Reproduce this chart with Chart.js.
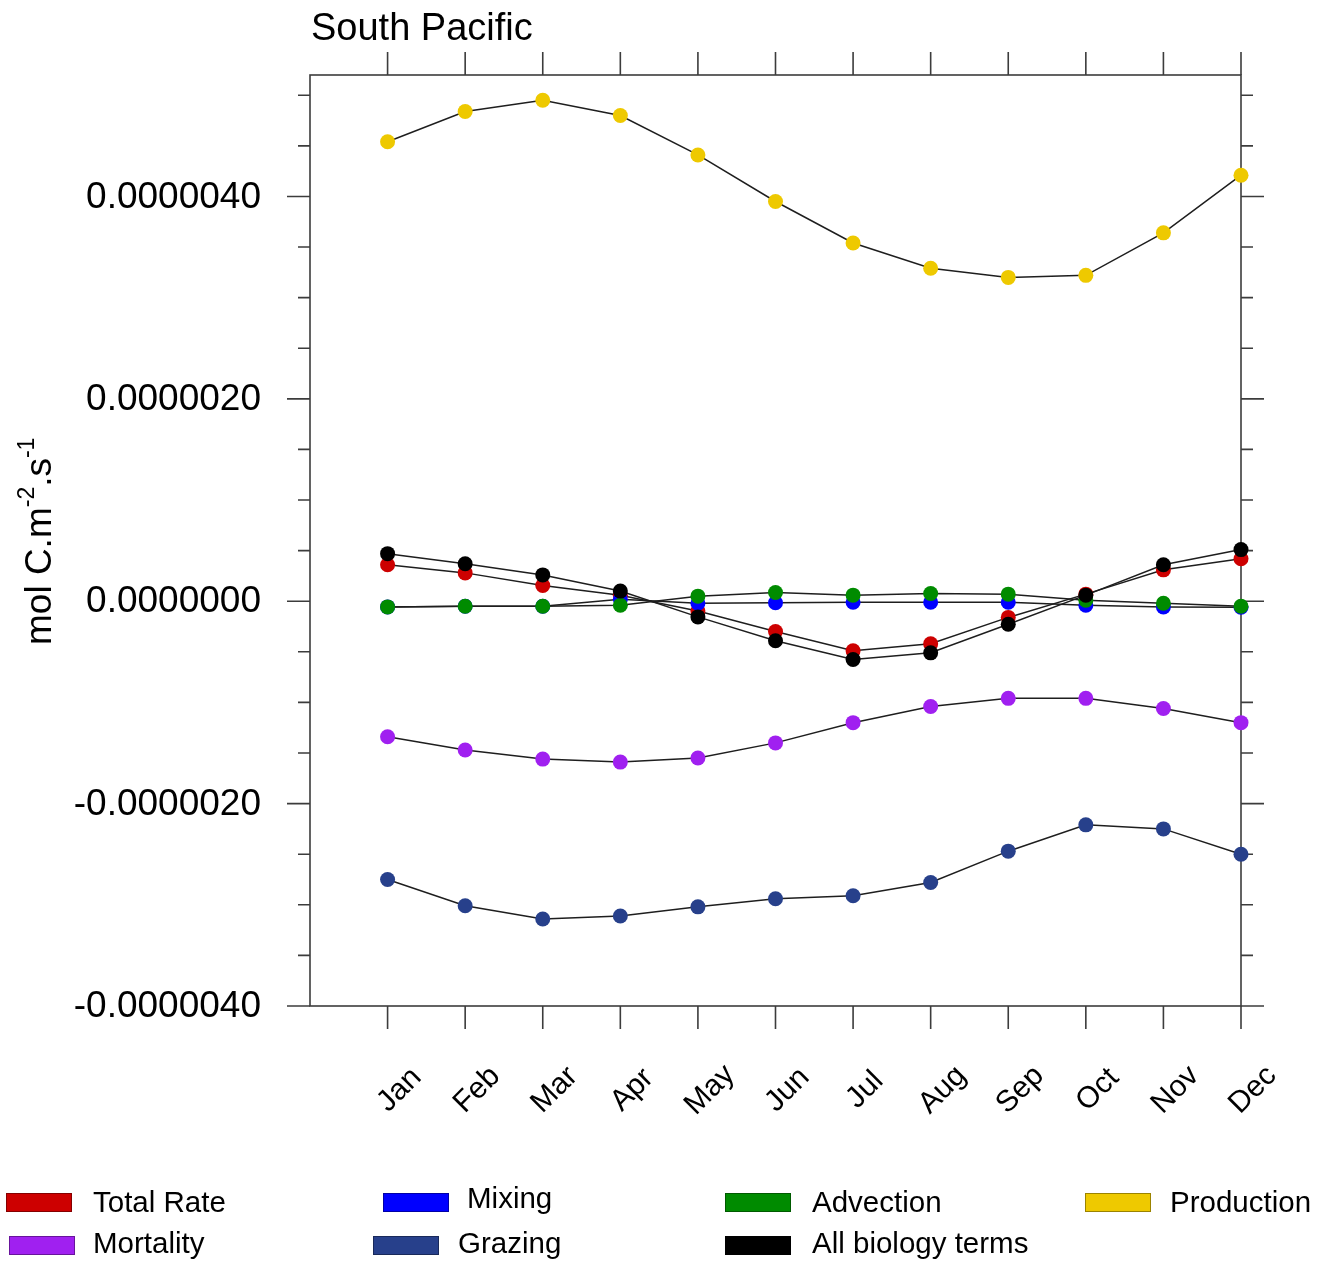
<!DOCTYPE html>
<html>
<head>
<meta charset="utf-8">
<title>South Pacific</title>
<script src="https://cdn.jsdelivr.net/npm/chart.js@4/dist/chart.umd.min.js"></script>
<style>
  html, body { margin: 0; padding: 0; background: #ffffff; }
  #wrap { width: 1330px; height: 1266px; position: relative; }
</style>
</head>
<body>
<div id="wrap"><canvas id="chart"></canvas></div>
<script>
// Monthly carbon budget terms, South Pacific (mol C m-2 s-1)
const months = ['Jan', 'Feb', 'Mar', 'Apr', 'May', 'Jun', 'Jul', 'Aug', 'Sep', 'Oct', 'Nov', 'Dec'];

const totalRate   = [0.36e-6, 0.28e-6, 0.155e-6, 0.06e-6, -0.096e-6, -0.30e-6, -0.49e-6, -0.42e-6, -0.16e-6, 0.07e-6, 0.31e-6, 0.42e-6];
const mixing      = [-0.056e-6, -0.05e-6, -0.05e-6, 0.02e-6, -0.02e-6, -0.015e-6, -0.01e-6, -0.01e-6, -0.01e-6, -0.04e-6, -0.056e-6, -0.06e-6];
const advection   = [-0.056e-6, -0.05e-6, -0.05e-6, -0.04e-6, 0.05e-6, 0.086e-6, 0.06e-6, 0.076e-6, 0.07e-6, 0.01e-6, -0.02e-6, -0.05e-6];
const production  = [4.54e-6, 4.84e-6, 4.95e-6, 4.80e-6, 4.41e-6, 3.95e-6, 3.54e-6, 3.29e-6, 3.20e-6, 3.22e-6, 3.64e-6, 4.21e-6];
const mortality   = [-1.34e-6, -1.47e-6, -1.56e-6, -1.59e-6, -1.55e-6, -1.40e-6, -1.20e-6, -1.04e-6, -0.96e-6, -0.96e-6, -1.06e-6, -1.20e-6];
const grazing     = [-2.75e-6, -3.01e-6, -3.14e-6, -3.11e-6, -3.02e-6, -2.94e-6, -2.91e-6, -2.78e-6, -2.47e-6, -2.21e-6, -2.25e-6, -2.50e-6];
const allBiology  = [0.47e-6, 0.37e-6, 0.26e-6, 0.10e-6, -0.155e-6, -0.39e-6, -0.576e-6, -0.51e-6, -0.227e-6, 0.06e-6, 0.36e-6, 0.51e-6];

const seriesNames  = ['Total Rate', 'Mixing', 'Advection', 'Production', 'Mortality', 'Grazing', 'All biology terms'];
const seriesColors = ['#CD0000', '#0000FF', '#008B00', '#EEC900', '#A020F0', '#27408B', '#000000'];
const seriesValues = [totalRate, mixing, advection, production, mortality, grazing, allBiology];

const yMajorTicks  = [-4e-6, -2e-6, 0, 2e-6, 4e-6];
const yTickLabels  = ['-0.0000040', '-0.0000020', '0.0000000', '0.0000020', '0.0000040'];
const yMinorStep   = 0.5e-6;

const FONT = '"Liberation Sans", Arial, Helvetica, sans-serif';
const AXIS_COLOR = '#3c3c3c';

// later series are painted on top of earlier ones
const datasets = seriesValues.map((vals, i) => ({
  label: seriesNames[i],
  data: vals.map((v, k) => ({ x: k + 1, y: v })),
  borderColor: '#1e1e1e',
  borderWidth: 1.5,
  backgroundColor: seriesColors[i],
  pointBackgroundColor: seriesColors[i],
  pointBorderWidth: 0,
  pointRadius: 7.5,
  pointHoverRadius: 7.5,
  tension: 0,
  clip: false,
  order: seriesValues.length - i
}));

// frame, tick marks and all axis text
const framePlugin = {
  id: 'frame',
  beforeDatasetsDraw(chart) {
    const { ctx, chartArea: a, scales: { x, y } } = chart;
    ctx.save();
    ctx.strokeStyle = AXIS_COLOR;
    ctx.lineWidth = 1.6;
    ctx.strokeRect(a.left, a.top, a.right - a.left, a.bottom - a.top);

    ctx.beginPath();
    // month ticks, outward on top and bottom
    for (let m = 1; m <= 12; m++) {
      const px = x.getPixelForValue(m);
      ctx.moveTo(px, a.top); ctx.lineTo(px, a.top - 23);
      ctx.moveTo(px, a.bottom); ctx.lineTo(px, a.bottom + 23);
    }
    // value ticks, outward on left and right
    for (let v = -4e-6; v <= 5.0e-6 + 1e-12; v += yMinorStep) {
      const py = y.getPixelForValue(v);
      const major = yMajorTicks.some(t => Math.abs(t - v) < 1e-12);
      const len = major ? 23 : 12;
      ctx.moveTo(a.left, py); ctx.lineTo(a.left - len, py);
      ctx.moveTo(a.right, py); ctx.lineTo(a.right + len, py);
    }
    ctx.stroke();
    ctx.restore();
  },
  afterDraw(chart) {
    const { ctx, chartArea: a, scales: { x, y } } = chart;
    ctx.save();
    ctx.fillStyle = '#000000';

    // title
    ctx.font = '38px ' + FONT;
    ctx.textAlign = 'left';
    ctx.textBaseline = 'alphabetic';
    ctx.fillText('South Pacific', 311, 40);

    // y tick labels
    ctx.font = '37px ' + FONT;
    ctx.textAlign = 'right';
    ctx.textBaseline = 'middle';
    yMajorTicks.forEach((v, i) => {
      ctx.fillText(yTickLabels[i], 261, y.getPixelForValue(v) + 1);
    });

    // month labels, rotated 45 degrees
    ctx.font = '30px ' + FONT;
    ctx.textAlign = 'center';
    ctx.textBaseline = 'middle';
    months.forEach((m, i) => {
      const px = x.getPixelForValue(i + 1);
      ctx.save();
      ctx.translate(px + 12, a.bottom + 84);
      ctx.rotate(-Math.PI / 4);
      ctx.fillText(m, 0, 0);
      ctx.restore();
    });

    // y axis title with superscripts
    ctx.save();
    ctx.translate(51, 645);
    ctx.rotate(-Math.PI / 2);
    ctx.textAlign = 'left';
    ctx.textBaseline = 'alphabetic';
    const parts = [
      { t: 'mol C.m', sup: false },
      { t: '-2', sup: true },
      { t: '.s', sup: false },
      { t: '-1', sup: true }
    ];
    let cx = 0;
    parts.forEach(p => {
      ctx.font = (p.sup ? '23px ' : '37px ') + FONT;
      ctx.fillText(p.t, cx, p.sup ? -17 : 0);
      cx += ctx.measureText(p.t).width;
    });
    ctx.restore();

    // legend: colour swatches with labels
    const legendSlots = [
      { sx: 6,   sy: 1193, tx: 93,  ty: 1203 },
      { sx: 383, sy: 1193, tx: 467, ty: 1199 },
      { sx: 725, sy: 1193, tx: 812, ty: 1203 },
      { sx: 1085, sy: 1193, tx: 1170, ty: 1203 },
      { sx: 9,   sy: 1236, tx: 93,  ty: 1244 },
      { sx: 373, sy: 1236, tx: 458, ty: 1244 },
      { sx: 725, sy: 1236, tx: 812, ty: 1244 }
    ];
    ctx.font = '29.5px ' + FONT;
    ctx.textAlign = 'left';
    ctx.textBaseline = 'middle';
    legendSlots.forEach((s, i) => {
      ctx.fillStyle = seriesColors[i];
      ctx.fillRect(s.sx, s.sy, 66, 19);
      ctx.strokeStyle = 'rgba(0,0,0,0.35)';
      ctx.lineWidth = 1;
      ctx.strokeRect(s.sx + 0.5, s.sy + 0.5, 65, 18);
      ctx.fillStyle = '#000000';
      ctx.fillText(seriesNames[i], s.tx, s.ty + 1);
    });
    ctx.restore();
  }
};

new Chart(document.getElementById('chart'), {
  type: 'line',
  data: { datasets },
  options: {
    responsive: true,
    maintainAspectRatio: false,
    animation: false,
    events: [],
    layout: { padding: { left: 310, right: 89, top: 75, bottom: 260 } },
    plugins: { legend: { display: false }, title: { display: false }, tooltip: { enabled: false } },
    scales: {
      x: { type: 'linear', min: 0, max: 12, display: false },
      y: { type: 'linear', min: -4e-6, max: 5.2e-6, display: false }
    }
  },
  plugins: [framePlugin]
});
</script>
</body>
</html>
